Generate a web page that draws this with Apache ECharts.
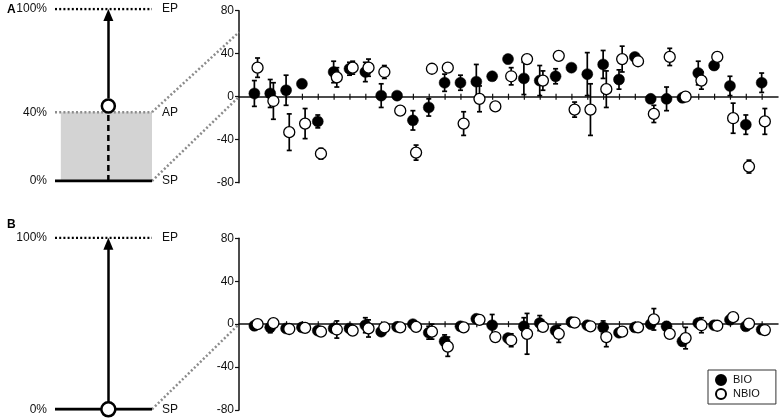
<!DOCTYPE html>
<html>
<head>
  <meta charset="UTF-8">
  <title>BIO / NBIO</title>
  <style>
    html, body { margin: 0; padding: 0; background: #fff; }
    #main { width: 782px; height: 418px; }
  </style>
  <script src="https://cdn.jsdelivr.net/npm/echarts@6/dist/echarts.min.js"></script>
</head>
<body>
<div id="main"></div>
<script type="text/javascript">
  // session positions on the x axis
  const sessions = [1, 2, 3, 4, 5, 6, 7, 8, 9, 10, 11, 12, 13, 14, 15, 16, 17,
    18, 19, 20, 21, 22, 23, 24, 25, 26, 27, 28, 29, 30, 31, 32, 33];

  // panel A
  const bioA = [3, 3, 6, 12, -23, 23, 26, 23, 1, 1, -22, -10, 13, 13, 14, 19, 35, 17, 15, 19, 27, 21, 30, 16, 37, -2, -2, -1, 22, 29, 10, -26, 13];
  const bioAErr = [12, 13, 14, 3, 6, 10, 6, 9, 11, 2, 9, 8, 8, 7, 16, 2, 4, 15, 14, 7, 2, 20, 13, 9, 2, 2, 11, 2, 11, 3, 9, 9, 9];
  const nbioA = [27, -4, -33, -25, -53, 18, 27, 27, 23, -13, -52, 26, 27, -25, -2, -9, 19, 35, 15, 38, -12, -12, 7, 35, 33, -16, 37, 0, 15, 37, -20, -65, -23];
  const nbioAErr = [9, 17, 17, 14, 5, 9, 6, 8, 6, 2, 7, 2, 2, 11, 12, 2, 8, 2, 9, 2, 7, 24, 17, 12, 2, 8, 8, 2, 8, 3, 14, 6, 12];

  // panel B
  const bioB = [-1.5, -3, -4, -3, -6, -4, -4, -1, -7, -2.5, 0, -8, -16, -2, 5, -1, -13, -2, 1, -6, 2, -1, -3, -8, -3, 0, -2, -16, 1, -1, 4, -2, -5];
  const bioBErr = [2, 5, 2, 2, 2, 3, 2, 7, 3, 2, 2, 6, 6, 2, 2, 10, 3, 8, 7, 2, 2, 2, 6, 3, 2, 2, 4, 4, 2, 2, 2, 2, 2];
  const nbioB = [0, 1, -4.5, -3.5, -7, -5, -6, -4, -3, -3, -2.5, -7, -21, -3, 4, -12, -15, -9, -2.5, -9, 1.5, -2, -12, -7, -3, 4.5, -9, -13, -1, -1.5, 6.5, 0.5, -5.5];
  const nbioBErr = [2, 2, 2, 2, 2, 8, 2, 8, 2, 2, 2, 7, 9, 2, 2, 2, 6, 19, 2, 8, 2, 2, 9, 4, 2, 10, 2, 10, 7, 2, 2, 2, 2];

  const yTicks = [-80, -40, 0, 40, 80];

  // schematic levels (percent of path)
  const levelsA = [0, 40, 100];
  const levelsB = [0, 100];
  const leftNames = { 0: '0%', 40: '40%', 100: '100%' };
  const rightNames = { 0: 'SP', 40: 'AP', 100: 'EP' };
  const armX = 55;        // vertical arrow inside schematic (0-100 wide)
  const apLevel = 40;
  const linkTopA = 60;    // where the AP connector meets panel A
  const BIO_DX = -0.03, NBIO_DX = 0.17;

  const FONT = 'Liberation Sans, Arial, Helvetica, sans-serif';
  const myChart = echarts.init(document.getElementById('main'));

  function pairs(vals, errs, dx) {
    return vals.map(function (v, i) { return [sessions[i] + dx, v, errs[i]]; });
  }

  function renderErr(params, api) {
    const x = api.value(0), y = api.value(1), e = api.value(2);
    const top = api.coord([x, y + e]);
    const bot = api.coord([x, y - e]);
    const w = 2.5;
    const st = { stroke: '#000', lineWidth: 1.7 };
    return {
      type: 'group',
      children: [
        { type: 'line', shape: { x1: top[0], y1: top[1], x2: bot[0], y2: bot[1] }, style: st },
        { type: 'line', shape: { x1: top[0] - w, y1: top[1], x2: top[0] + w, y2: top[1] }, style: st },
        { type: 'line', shape: { x1: bot[0] - w, y1: bot[1], x2: bot[0] + w, y2: bot[1] }, style: st }
      ]
    };
  }

  // small tick marks crossing the zero line
  function renderTick(params, api) {
    const p = api.coord([api.value(0), 0]);
    return {
      type: 'line',
      shape: { x1: p[0], y1: p[1] - 3, x2: p[0], y2: p[1] + 3 },
      style: { stroke: '#111', lineWidth: 1.2 }
    };
  }

  function dataXAxis(gi) {
    return {
      gridIndex: gi, type: 'value', min: 0, max: 34, interval: 1, position: 'bottom',
      axisLine: { onZero: true, lineStyle: { color: '#111', width: 1.5 } },
      axisTick: { show: false },
      axisLabel: { show: false }, splitLine: { show: false }
    };
  }

  function dataYAxis(gi) {
    return {
      gridIndex: gi, type: 'value', min: -80, max: 80, interval: 40,
      axisLine: { show: true, onZero: false, lineStyle: { color: '#111', width: 1.5 } },
      axisTick: { show: true, length: 4, lineStyle: { color: '#111', width: 1.2 } },
      axisLabel: { fontSize: 12, color: '#111', margin: 5 },
      splitLine: { show: false }
    };
  }

  function schemXAxis(gi) {
    return { gridIndex: gi, type: 'value', min: 0, max: 100, show: false };
  }

  function schemYAxes(gi, levels) {
    const base = {
      gridIndex: gi, type: 'value', min: 0, max: 100,
      axisLine: { show: false }, axisTick: { show: false }, splitLine: { show: false }
    };
    return [
      Object.assign({}, base, {
        position: 'left',
        axisLabel: { fontSize: 12, color: '#111', margin: 8, customValues: levels,
          formatter: function (v) { return leftNames[v]; } }
      }),
      Object.assign({}, base, {
        position: 'right',
        axisLabel: { fontSize: 12, color: '#111', margin: 10, customValues: levels,
          formatter: function (v) { return rightNames[v]; } }
      })
    ];
  }

  function levelLine(xIdx, yIdx, level, style) {
    return {
      type: 'line', xAxisIndex: xIdx, yAxisIndex: yIdx, symbol: 'none', silent: true,
      data: [[0, level], [100, level]], lineStyle: style, z: 3
    };
  }

  const dotBlack = { color: '#000', width: 2.5, type: [2, 2.2] };
  const dotGrey = { color: '#8c8c8c', width: 2.5, type: [2, 2.2] };
  const solidBlack = { color: '#000', width: 3, type: 'solid' };
  const openRing = { color: '#fff', borderColor: '#000', borderWidth: 2.5, opacity: 1 };

  // axis index bookkeeping: x: 0 schemA, 1 dataA, 2 schemB, 3 dataB
  // y: 0-1 schemA, 2 dataA, 3-4 schemB, 5 dataB
  const option = {
    animation: false,
    textStyle: { fontFamily: FONT },
    title: [
      { text: 'A', left: 2, top: -1, textStyle: { fontSize: 12, fontWeight: 'bold', color: '#000', fontFamily: FONT } },
      { text: 'B', left: 2, top: 214, textStyle: { fontSize: 12, fontWeight: 'bold', color: '#000', fontFamily: FONT } }
    ],
    legend: {
      data: ['BIO', 'NBIO'], orient: 'vertical', left: 708, top: 370,
      padding: [4, 16, 4, 7], itemGap: 2, itemWidth: 10, itemHeight: 10, icon: 'circle',
      borderColor: '#333', borderWidth: 1,
      textStyle: { fontSize: 11, color: '#111', padding: [0, 0, 0, 2] }
    },
    grid: [
      { left: 55, top: 9, width: 97, height: 172, outerBoundsMode: 'none' },
      { left: 239, top: 10.7, width: 539, height: 172, outerBoundsMode: 'none' },
      { left: 55, top: 237.7, width: 97, height: 171.6, outerBoundsMode: 'none' },
      { left: 239, top: 238.3, width: 539, height: 171.7, outerBoundsMode: 'none' }
    ],
    xAxis: [schemXAxis(0), dataXAxis(1), schemXAxis(2), dataXAxis(3)],
    yAxis: schemYAxes(0, levelsA).concat([dataYAxis(1)], schemYAxes(2, levelsB), [dataYAxis(3)]),
    series: [
      // ---- schematic A
      {
        type: 'line', xAxisIndex: 0, yAxisIndex: 0, symbol: 'none', silent: true, data: [],
        markArea: {
          silent: true, itemStyle: { color: '#d3d3d3' },
          data: [[{ coord: [6, 0] }, { coord: [100, apLevel] }]]
        },
        z: 1
      },
      levelLine(0, 0, 100, dotBlack),
      levelLine(0, 0, apLevel, dotGrey),
      levelLine(0, 0, 0, solidBlack),
      {
        type: 'line', xAxisIndex: 0, yAxisIndex: 0, symbol: 'none', silent: true,
        data: [[armX, 0], [armX, apLevel]], lineStyle: { color: '#000', width: 2.5, type: [6, 4] }, z: 4
      },
      {
        type: 'line', xAxisIndex: 0, yAxisIndex: 0, symbol: 'none', silent: true, data: [],
        markLine: {
          silent: true, symbol: ['none', 'triangle'], symbolSize: [10, 12], label: { show: false },
          lineStyle: { color: '#000', width: 2.5, type: 'solid' },
          data: [[{ coord: [armX, apLevel + 8] }, { coord: [armX, 96.5] }]]
        },
        z: 4
      },
      {
        type: 'scatter', xAxisIndex: 0, yAxisIndex: 0, silent: true, symbolSize: 13, z: 5,
        data: [[armX, apLevel + 3.6]], itemStyle: openRing
      },
      // ---- panel A data
      { name: 'ticksA', type: 'custom', xAxisIndex: 1, yAxisIndex: 2, renderItem: renderTick,
        encode: { x: 0 }, data: sessions.map(function (s) { return [s]; }), silent: true, z: 1 },
      { name: 'errA-BIO', type: 'custom', xAxisIndex: 1, yAxisIndex: 2, renderItem: renderErr,
        encode: { x: 0, y: 1 }, data: pairs(bioA, bioAErr, BIO_DX), z: 2 },
      { name: 'BIO', type: 'scatter', xAxisIndex: 1, yAxisIndex: 2, symbolSize: 11, z: 2,
        data: pairs(bioA, bioAErr, BIO_DX), itemStyle: { color: '#000', borderColor: '#000', borderWidth: 0.5, opacity: 1 } },
      { name: 'errA-NBIO', type: 'custom', xAxisIndex: 1, yAxisIndex: 2, renderItem: renderErr,
        encode: { x: 0, y: 1 }, data: pairs(nbioA, nbioAErr, NBIO_DX), z: 2 },
      { name: 'NBIO', type: 'scatter', xAxisIndex: 1, yAxisIndex: 2, symbolSize: 11, z: 2,
        data: pairs(nbioA, nbioAErr, NBIO_DX), itemStyle: { color: '#fff', borderColor: '#000', borderWidth: 1.3, opacity: 1 } },
      // ---- schematic B
      levelLine(2, 3, 100, dotBlack),
      levelLine(2, 3, 0, solidBlack),
      {
        type: 'line', xAxisIndex: 2, yAxisIndex: 3, symbol: 'none', silent: true, data: [],
        markLine: {
          silent: true, symbol: ['none', 'triangle'], symbolSize: [10, 12], label: { show: false },
          lineStyle: { color: '#000', width: 2.5, type: 'solid' },
          data: [[{ coord: [armX, 3] }, { coord: [armX, 96.5] }]]
        },
        z: 4
      },
      {
        type: 'scatter', xAxisIndex: 2, yAxisIndex: 3, silent: true, symbolSize: 14, z: 5,
        data: [[armX, 0]], itemStyle: openRing
      },
      // ---- panel B data
      { name: 'ticksB', type: 'custom', xAxisIndex: 3, yAxisIndex: 5, renderItem: renderTick,
        encode: { x: 0 }, data: sessions.map(function (s) { return [s]; }), silent: true, z: 1 },
      { name: 'errB-BIO', type: 'custom', xAxisIndex: 3, yAxisIndex: 5, renderItem: renderErr,
        encode: { x: 0, y: 1 }, data: pairs(bioB, bioBErr, BIO_DX), z: 2 },
      { name: 'BIO', type: 'scatter', xAxisIndex: 3, yAxisIndex: 5, symbolSize: 11, z: 2,
        data: pairs(bioB, bioBErr, BIO_DX), itemStyle: { color: '#000', borderColor: '#000', borderWidth: 0.5, opacity: 1 } },
      { name: 'errB-NBIO', type: 'custom', xAxisIndex: 3, yAxisIndex: 5, renderItem: renderErr,
        encode: { x: 0, y: 1 }, data: pairs(nbioB, nbioBErr, NBIO_DX), z: 2 },
      { name: 'NBIO', type: 'scatter', xAxisIndex: 3, yAxisIndex: 5, symbolSize: 11, z: 2,
        data: pairs(nbioB, nbioBErr, NBIO_DX), itemStyle: { color: '#fff', borderColor: '#000', borderWidth: 1.3, opacity: 1 } }
    ]
  };

  myChart.setOption(option);

  // dotted connectors from the schematics to the data panels
  function link(fromGrid, fromPt, toGrid, toPt) {
    const a = myChart.convertToPixel({ gridIndex: fromGrid }, fromPt);
    const b = myChart.convertToPixel({ gridIndex: toGrid }, toPt);
    return {
      type: 'line', silent: true, z: 1,
      shape: { x1: a[0], y1: a[1], x2: b[0], y2: b[1] },
      style: { stroke: '#8c8c8c', lineWidth: 2.5, lineDash: [2, 2.2] }
    };
  }

  myChart.setOption({
    graphic: [
      link(0, [100, apLevel], 1, [0, linkTopA]),
      link(0, [100, 0], 1, [0, 0]),
      link(2, [100, 0], 3, [0, 0])
    ]
  });
</script>
</body>
</html>
